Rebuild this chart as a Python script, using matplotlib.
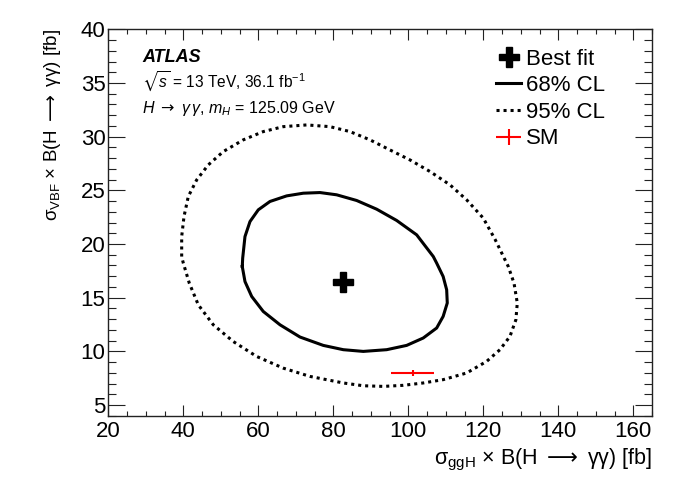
import matplotlib
matplotlib.use('Agg')
import matplotlib.pyplot as plt
from matplotlib.ticker import MultipleLocator
from matplotlib.legend_handler import HandlerErrorbar

# ---------------- data ----------------
best_fit_x = [82.5]
best_fit_y = [16.5]

sm_x = [101.2]
sm_y = [8.0]
sm_xlo = [95.3]
sm_xhi = [106.9]
sm_yerr = [0.28]

cl68_x = [55.73, 55.84, 56.45, 57.79, 60.0, 63.12, 67.57, 72.0, 76.45, 80.9,
          86.24, 91.57, 96.9, 102.24, 106.67, 107.57, 109.3, 110.24, 110.4,
          109.3, 107.57, 104.0, 99.57, 94.24, 88.0, 82.67, 77.33, 71.12, 65.79,
          61.33, 58.24, 56.45, 55.73]
cl68_y = [17.9, 18.68, 20.69, 22.09, 23.18, 23.96, 24.48, 24.73, 24.79, 24.58,
          24.05, 23.24, 22.19, 20.85, 18.83, 18.22, 16.97, 15.73, 14.5,
          13.25, 12.17, 11.24, 10.55, 10.15, 9.99, 10.15, 10.55, 11.33, 12.47,
          13.71, 15.11, 16.5, 17.9]

cl95_x = [39.57, 39.57, 40.19, 41.33, 43.57, 46.67, 50.67, 56.0, 61.33, 66.67,
          72.9, 79.12, 84.45, 89.79, 95.12, 100.45, 105.79, 111.12, 115.57,
          120.0, 123.2, 126.67, 128.2, 129.07, 128.7, 127.12, 124.45, 120.9,
          115.57, 109.33, 104.0, 98.67, 93.33, 88.0, 82.67, 73.79, 66.67,
          59.57, 53.33, 48.0, 44.0, 41.6, 40.0, 39.57]
cl95_y = [18.83, 20.69, 22.56, 24.42, 25.97, 27.37, 28.61, 29.7, 30.47, 30.93,
          31.09, 30.93, 30.47, 29.7, 28.76, 27.83, 26.75, 25.51, 24.11,
          22.41, 20.39, 17.9, 16.35, 14.5, 12.94, 11.39, 10.15, 9.06,
          7.98, 7.36, 7.05, 6.83, 6.73, 6.79, 7.05, 7.66, 8.43,
          9.52, 10.91, 12.47, 14.33, 16.35, 18.22, 18.83]

legend_labels = ["Best fit", "68% CL", "95% CL", "SM"]
xlabel = r"σ$_{\mathrm{ggH}}$ × B(H $\mathsf{\longrightarrow}$ γγ) [fb]"
ylabel = r"σ$_{\mathrm{VBF}}$ × B(H $\mathsf{\longrightarrow}$ γγ) [fb]"

# ---------------- style ----------------
plt.rcParams['font.family'] = ['Liberation Sans', 'DejaVu Sans']
plt.rcParams['mathtext.fontset'] = 'custom'
plt.rcParams['mathtext.rm'] = 'Liberation Sans'
plt.rcParams['mathtext.it'] = 'Liberation Sans:italic'
plt.rcParams['mathtext.bf'] = 'Liberation Sans:bold'
plt.rcParams['mathtext.sf'] = 'DejaVu Sans'
plt.rcParams['mathtext.fallback'] = 'stix'

fig = plt.figure(figsize=(6.81, 4.95), dpi=100)
ax = fig.add_axes([108.3 / 681, 1 - 415.7 / 495, 543.7 / 681, 386.4 / 495])

ax.set_xlim(20, 165)
ax.set_ylim(4, 40)

ax.xaxis.set_major_locator(MultipleLocator(20))
ax.xaxis.set_minor_locator(MultipleLocator(5))
ax.yaxis.set_major_locator(MultipleLocator(5))
ax.yaxis.set_minor_locator(MultipleLocator(1))

ax.tick_params(axis='both', which='both', direction='in', top=True, right=True,
               width=0.8, colors='#222222', labelcolor='black')
ax.tick_params(axis='x', which='major', length=7.7, labelsize=16, pad=4)
ax.tick_params(axis='x', which='minor', length=3.6)
ax.tick_params(axis='y', which='major', length=12, labelsize=16, pad=2)
ax.tick_params(axis='y', which='minor', length=6)
for s in ax.spines.values():
    s.set_linewidth(1.0)
    s.set_color('#222222')

# contours
l68, = ax.plot(cl68_x, cl68_y, color='black', lw=2.2, solid_joinstyle='round')
l95, = ax.plot(cl95_x, cl95_y, color='black', lw=2.2, linestyle=(0, (1.0, 1.3)),
               dash_capstyle='butt')

# best fit
bf, = ax.plot(best_fit_x, best_fit_y, linestyle='none', marker='P', ms=14,
              color='black', mec='black')

# SM
xerr = [[sm_x[0] - sm_xlo[0]], [sm_xhi[0] - sm_x[0]]]
sm = ax.errorbar(sm_x, sm_y, xerr=xerr, yerr=sm_yerr, fmt='none', ecolor='red',
                 elinewidth=1.5, capsize=0)

ax.set_xlabel(xlabel, fontsize=15.5, loc='right', labelpad=3)
ax.set_ylabel(ylabel, fontsize=13.5, loc='top', labelpad=13)

# texts
ax.text(0.062, 0.915, "ATLAS", transform=ax.transAxes, fontsize=13,
        fontweight='bold', fontstyle='italic', va='baseline')
ax.text(0.062, 0.848, r"$\sqrt{s}$ = 13 TeV, 36.1 fb$^{-1}$", transform=ax.transAxes,
        fontsize=11.2, va='baseline')
ax.text(0.062, 0.783, r"$H\ \mathsf{\rightarrow}\ \gamma\,\gamma$, $m_{H}$ = 125.09 GeV",
        transform=ax.transAxes, fontsize=11.5, va='baseline')

# legend
leg = ax.legend([bf, l68, l95, sm], legend_labels, loc='upper left',
                bbox_to_anchor=(0.713, 0.95), frameon=False, fontsize=16,
                borderpad=0, borderaxespad=0, handlelength=1.13,
                handletextpad=0.23, labelspacing=0.25,
                handler_map={type(sm): HandlerErrorbar(xerr_size=0.56, yerr_size=0.36)})

fig.savefig('out.png', dpi=100)
